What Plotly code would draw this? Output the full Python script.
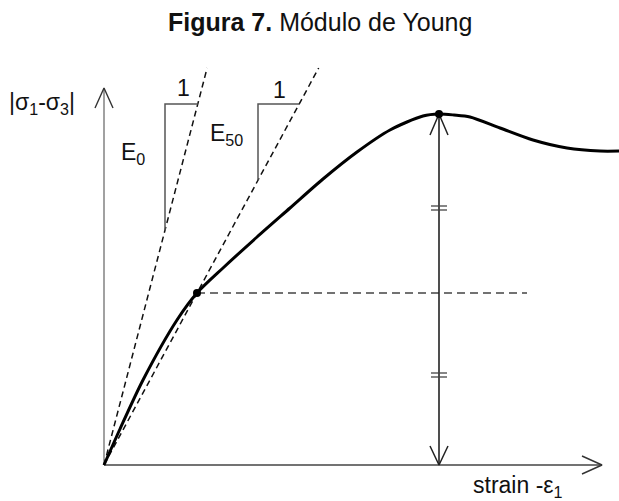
import plotly.graph_objects as go

# Stress-strain curve of a triaxial test (schematic units, origin at 0,0)
strain = [0, 16, 39, 73, 93, 119, 153, 186, 219, 253, 286, 319, 335, 350, 366, 396, 429, 463, 496, 515]
stress = [0, 36, 85, 145, 172, 197, 228, 257, 286, 313, 335, 349, 351, 350, 348, 337, 325, 317, 314, 314]

# Initial tangent slope and the point at 50 % of the peak deviator stress
E0_slope = 3.85
e50_strain, e50_stress = 93, 172

# Extent of the drawing
axis_x_end = 498
axis_y_end = 377
tangent_top = 397
triangle_top = 361
hline_end = 423
equal_ticks = [257, 90]

title_text = "<b>Figura 7.</b> Módulo de Young"
x_label = "strain -ε<sub>1</sub>"
y_label = "|σ<sub>1</sub>-σ<sub>3</sub>|"

FONT = "Arial, 'Liberation Sans', sans-serif"
INK = "#111111"

peak_i = stress.index(max(stress))
peak_strain, peak_stress = strain[peak_i], stress[peak_i]
E50_slope = e50_stress / e50_strain

fig = go.Figure()


def seg(xs, ys, color, width, dash="solid"):
    fig.add_trace(go.Scatter(x=xs, y=ys, mode="lines", hoverinfo="skip",
                             line=dict(color=color, width=width, dash=dash)))


# Axes with open arrowheads
head_len, head_half = 20, 9
seg([0, 0], [0, axis_y_end], "#8a8a8a", 1.6)
seg([-head_half, 0, head_half], [axis_y_end - head_len, axis_y_end, axis_y_end - head_len], "#333333", 1.4)
seg([0, axis_x_end], [0, 0], "#444444", 1.6)
seg([axis_x_end - head_len, axis_x_end, axis_x_end - head_len], [head_half, 0, -head_half], "#333333", 1.4)

# Tangent (E0) and secant (E50) lines
seg([0, tangent_top / E0_slope], [0, tangent_top], "#111111", 1.5, "6px,4px")
seg([0, tangent_top / E50_slope], [0, tangent_top], "#111111", 1.5, "6px,4px")

# Slope triangles
for x_left, slope in [(61, E0_slope), (154, E50_slope)]:
    seg([x_left, x_left, triangle_top / slope], [x_left * slope, triangle_top, triangle_top], "#555555", 1.5)

# Horizontal reference at 50 % of peak
seg([e50_strain, hline_end], [e50_stress, e50_stress], "#444444", 1.5, "8px,5px")

# Peak deviator stress dimension line with arrowheads
seg([peak_strain, peak_strain], [0, peak_stress], "#222222", 1.6)
seg([peak_strain - head_half, peak_strain, peak_strain + head_half],
    [peak_stress - 21, peak_stress, peak_stress - 21], "#222222", 1.5)
seg([peak_strain - head_half, peak_strain, peak_strain + head_half],
    [19, 0, 19], "#222222", 1.5)
# Equal-length tick marks on both halves
for mid in equal_ticks:
    for off in (2, -2):
        seg([peak_strain - 8, peak_strain + 8], [mid + off, mid + off], "#444444", 1.3)

# Stress-strain curve
fig.add_trace(go.Scatter(x=strain, y=stress, mode="lines", hoverinfo="skip",
                         line=dict(color="#000000", width=3, shape="spline", smoothing=0.8)))
fig.add_trace(go.Scatter(x=[e50_strain, peak_strain], y=[e50_stress, peak_stress], mode="markers",
                         hoverinfo="skip", marker=dict(color="#000000", size=8)))

# Labels
labels = [
    (y_label, -62, 362, 23),
    (x_label, 414, -21, 23),
    ("E<sub>0</sub>", 29, 312, 23),
    ("E<sub>50</sub>", 122, 331, 23),
    ("1", 79, 377, 23),
    ("1", 175, 375, 23),
    (title_text, 216, 443, 25),
]
for text, x, y, size in labels:
    fig.add_annotation(x=x, y=y, text=text, showarrow=False, xanchor="center", yanchor="middle",
                       font=dict(family=FONT, size=size, color=INK))

fig.update_layout(
    width=619, height=501,
    margin=dict(l=0, r=0, t=0, b=0),
    paper_bgcolor="white", plot_bgcolor="white",
    showlegend=False,
    xaxis=dict(range=[-104, 515], visible=False, fixedrange=True),
    yaxis=dict(range=[-36, 465], visible=False, fixedrange=True),
)

fig.write_html("out.html")
